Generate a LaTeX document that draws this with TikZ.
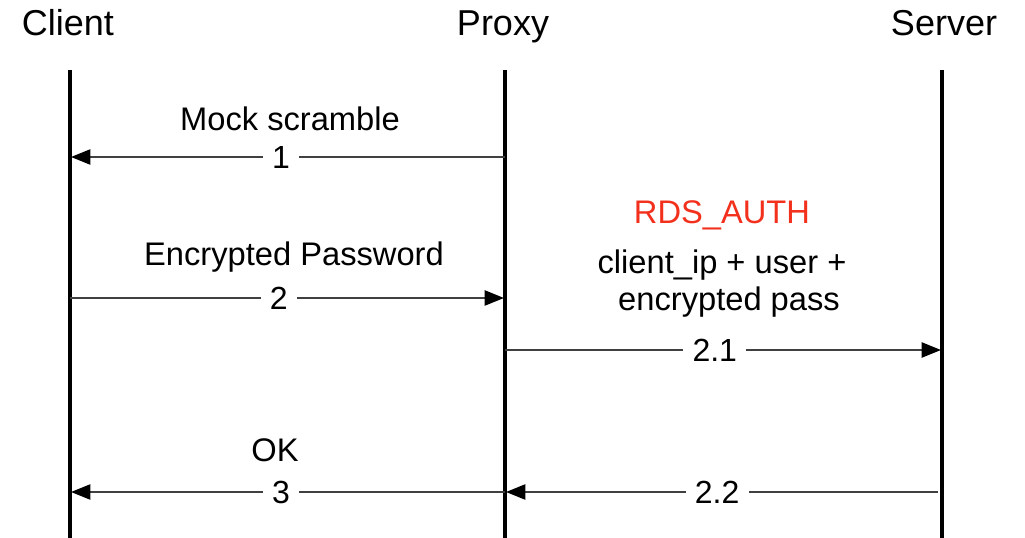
\documentclass[tikz,border=0pt]{standalone}
\usepackage{fontspec}
\setmainfont{Liberation Sans}
\usetikzlibrary{arrows.meta}
\definecolor{authred}{RGB}{242,48,28}
\tikzset{
  lifeline/.style={line width=2.3pt, black},
  msg/.style={line width=1.1pt, draw=black!75, -{Triangle[length=14.5pt,width=11.5pt,color=black]}, shorten >=0.8pt},
  title/.style={font=\fontsize{27}{30}\selectfont, anchor=base},
  lbl/.style={font=\fontsize{24.5}{29}\selectfont, anchor=base},
  num/.style={font=\fontsize{24}{28}\selectfont, fill=white, inner xsep=7pt, inner ysep=1pt},
}
\begin{document}
\begin{tikzpicture}[x=0.75pt, y=-0.75pt]
  \useasboundingbox (0,0) rectangle (1025,538);

  % participants
  \node[title] (client) at (68,36) {Client};
  \node[title] (proxy)  at (503,36) {Proxy};
  \node[title] (server) at (944,36) {Server};

  % lifelines
  \coordinate (cT) at (70,70);  \coordinate (cB) at (70,540);
  \coordinate (pT) at (505,70); \coordinate (pB) at (505,540);
  \coordinate (sT) at (942,70); \coordinate (sB) at (942,540);
  \draw[lifeline] (cT) -- (cB);
  \draw[lifeline] (pT) -- (pB);
  \draw[lifeline] (sT) -- (sB);

  % message end points
  \coordinate (m1p) at (505,157); \coordinate (m1c) at (70,157);
  \coordinate (m2c) at (70,298);  \coordinate (m2p) at (505,298);
  \coordinate (m21p) at (505,350); \coordinate (m21s) at (942,350);
  \coordinate (m3p) at (505,492); \coordinate (m3c) at (70,492);
  \coordinate (m22s) at (938,492); \coordinate (m22p) at (505,492);

  % 1: mock scramble
  \node[lbl] (t1) at (290,131) {Mock scramble};
  \draw[msg] (m1p) -- node[num, pos=0.515] (n1) {1} (m1c);

  % 2: encrypted password
  \node[lbl] (t2) at (294,266) {Encrypted Password};
  \draw[msg] (m2c) -- node[num, pos=0.48] (n2) {2} (m2p);

  % 2.1: RDS_AUTH
  \node[lbl, text=authred] (t21a) at (722,224) {RDS\_AUTH};
  \node[lbl] (t21b) at (722,274) {client\_ip + user +};
  \node[lbl] (t21c) at (729,311) {encrypted pass};
  \draw[msg] (m21p) -- node[num, pos=0.48] (n21) {2.1} (m21s);

  % 2.2 and 3: OK
  \draw[msg] (m22s) -- node[num, pos=0.51] (n22) {2.2} (m22p);
  \node[lbl] (t3) at (275,461) {OK};
  \draw[msg] (m3p) -- node[num, pos=0.515] (n3) {3} (m3c);
\end{tikzpicture}
\end{document}
